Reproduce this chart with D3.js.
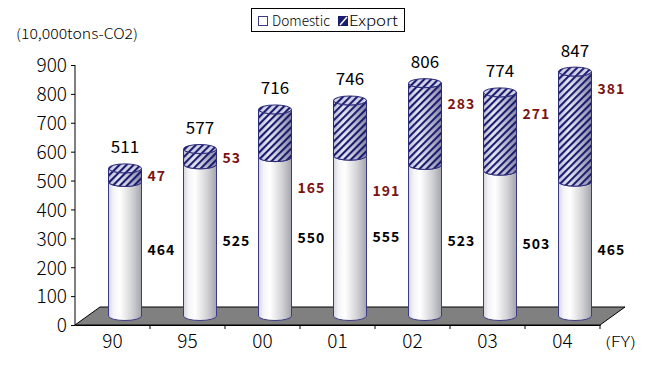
<!DOCTYPE html>
<html><head><meta charset="utf-8">
<script src="https://cdn.jsdelivr.net/npm/d3@7"></script>
<style>body{margin:0;background:#fff}svg{display:block}</style>
</head><body>
<svg id="c" width="656" height="370"></svg>
<script>
const categories = ["90","95","00","01","02","03","04"];
const domestic = [464,525,550,555,523,503,465];
const exportV = [47,53,165,191,283,271,381];
const totals = [511,577,716,746,806,774,847];
const exportLabelAt = [488,550,446,436,737,703,789];
const yTicks = [0,100,200,300,400,500,600,700,800,900];
const seriesNames = ["Domestic","Export"];
const unitLabel = "(10,000tons-CO2)";
const fyLabel = "(FY)";

(function(){
const svg = d3.select("#c");
const font = "'Noto Sans CJK JP','Noto Sans',sans-serif";
const pL = 75, pR = 600, pB = 325, pT = 65;
const depthX = 25, depthY = -18;
const x = d3.scaleBand().domain(categories).range([pL, pR]).padding(0);
const y = d3.scaleLinear().domain([0, 900]).range([pB, pT]);
const bw = x.bandwidth();
const offX = depthX / 2, offY = depthY / 2;
const r = 16.5, ry = 4.5;

const defs = svg.append("defs");
const g1 = defs.append("linearGradient").attr("id","gDom");
[[0,"#d4d4e0"],[0.15,"#f4f4f8"],[0.35,"#ffffff"],[0.7,"#d4d4d8"],[1,"#a4a4ae"]].forEach(([o,c])=>g1.append("stop").attr("offset",o).attr("stop-color",c));
const g2 = defs.append("linearGradient").attr("id","gExp");
[[0,"#c0c0d8"],[0.3,"#e8e8f4"],[0.6,"#c4c4d8"],[1,"#8888a8"]].forEach(([o,c])=>g2.append("stop").attr("offset",o).attr("stop-color",c));
const pat = defs.append("pattern").attr("id","hatch").attr("patternUnits","userSpaceOnUse")
  .attr("width",5).attr("height",5).attr("patternTransform","rotate(45)");
pat.append("rect").attr("x",0).attr("y",0).attr("width",2.1).attr("height",5).attr("fill","#1c1c6e");

// floor
const floorPts = [[pL,pB],[pR,pB],[pR+depthX,pB+depthY],[pL+depthX,pB+depthY]];
svg.append("path").attr("d", d3.line()(floorPts)+"Z").attr("fill","#808080").attr("stroke","#000").attr("stroke-width",1);

// axes
const yAxis = d3.axisLeft(y).tickValues(yTicks).tickSize(4).tickPadding(4);
const ya = svg.append("g").attr("transform",`translate(${pL},0)`).call(yAxis);
ya.select(".domain").attr("stroke","#000").attr("d",`M0,${y(900)}V${y(0)}`);
ya.selectAll("text").attr("font-family",font).attr("font-size",19).attr("fill","#000").attr("dy","0.36em").attr("font-weight",300);
ya.selectAll("line").attr("stroke","#000");

const xAxis = d3.axisBottom(x).tickSize(0).tickPadding(10);
const xa = svg.append("g").attr("transform",`translate(0,${pB})`).call(xAxis);
xa.select(".domain").attr("stroke","#000");
xa.selectAll("text").attr("font-family",font).attr("font-size",19).attr("fill","#000").attr("font-weight",300);
xa.selectAll(".sep").data(categories.slice(1)).enter().append("line").attr("class","sep")
  .attr("x1",d=>x(d)).attr("x2",d=>x(d)).attr("y1",0).attr("y2",4).attr("stroke","#000");
svg.append("line").attr("x1",pR).attr("x2",pR).attr("y1",pB).attr("y2",pB+4).attr("stroke","#000");

function body(cx, y0, y1){
  return `M${cx-r},${y1}L${cx-r},${y0}A${r},${ry} 0 0 0 ${cx+r},${y0}L${cx+r},${y1}A${r},${ry} 0 0 1 ${cx-r},${y1}Z`;
}
function ell(cx, yc){
  return `M${cx-r},${yc}A${r},${ry} 0 0 1 ${cx+r},${yc}A${r},${ry} 0 0 1 ${cx-r},${yc}Z`;
}

const bars = svg.append("g");
categories.forEach((c,i)=>{
  const cx = x(c) + bw/2 + offX;
  const yb = y(0) + offY, yd = y(domestic[i]) + offY, yt = y(domestic[i]+exportV[i]) + offY;
  bars.append("path").attr("d", body(cx, yb, yd)).attr("fill","url(#gDom)").attr("stroke","#3c3c84").attr("stroke-width",1);
  bars.append("path").attr("d", body(cx, yd, yt)).attr("fill","url(#gExp)").attr("stroke","none");
  bars.append("path").attr("d", body(cx, yd, yt)).attr("fill","url(#hatch)").attr("stroke","#2a2a7a").attr("stroke-width",1);
  bars.append("path").attr("d", ell(cx, yt)).attr("fill","#d4d4e8").attr("stroke","none");
  bars.append("path").attr("d", ell(cx, yt)).attr("fill","url(#hatch)").attr("stroke","#2a2a7a").attr("stroke-width",1);
  svg.append("text").attr("x",cx).attr("y",yt-15).attr("text-anchor","middle")
    .attr("font-family",font).attr("font-size",17).attr("fill","#000").text(totals[i]);
  svg.append("text").attr("x",cx+r+6).attr("y",y(domestic[i]/2)+offY).attr("dominant-baseline","central")
    .attr("font-family",font).attr("font-size",14).attr("font-weight","bold").attr("letter-spacing",1).attr("fill","#000").text(domestic[i]);
  svg.append("text").attr("x",cx+r+6).attr("y",y(exportLabelAt[i])+offY).attr("dominant-baseline","central")
    .attr("font-family",font).attr("font-size",14).attr("font-weight","bold").attr("letter-spacing",1).attr("fill","#7a1414").text(exportV[i]);
});

svg.append("text").attr("x",16).attr("y",39).attr("font-family",font).attr("font-size",14).attr("font-weight",300).attr("fill","#000")
  .attr("textLength",122).attr("lengthAdjust","spacingAndGlyphs").text(unitLabel);
svg.append("text").attr("x",605).attr("y",347).attr("font-family",font).attr("font-size",14).attr("font-weight",300).attr("fill","#000")
  .attr("textLength",31).attr("lengthAdjust","spacingAndGlyphs").text(fyLabel);

const lg = svg.append("g");
lg.append("rect").attr("x",251.5).attr("y",8.5).attr("width",153).attr("height",23).attr("fill","#fff").attr("stroke","#000");
lg.append("rect").attr("x",258.5).attr("y",16.5).attr("width",9).attr("height",9).attr("fill","#fff").attr("stroke","#3c3c84");
lg.append("text").attr("x",272).attr("y",26).attr("font-family",font).attr("font-size",14).attr("font-weight",300)
  .attr("textLength",58).attr("lengthAdjust","spacingAndGlyphs").text(seriesNames[0]);
lg.append("rect").attr("x",338.5).attr("y",16.5).attr("width",9).attr("height",9).attr("fill","#1c1c6e").attr("stroke","#1c1c6e");
lg.append("line").attr("x1",340).attr("y1",25).attr("x2",347).attr("y2",17).attr("stroke","#fff").attr("stroke-width",1.5);
lg.append("text").attr("x",349).attr("y",26).attr("font-family",font).attr("font-size",14).attr("font-weight",300)
  .attr("textLength",49).attr("lengthAdjust","spacingAndGlyphs").text(seriesNames[1]);
})();
</script>
</body></html>
